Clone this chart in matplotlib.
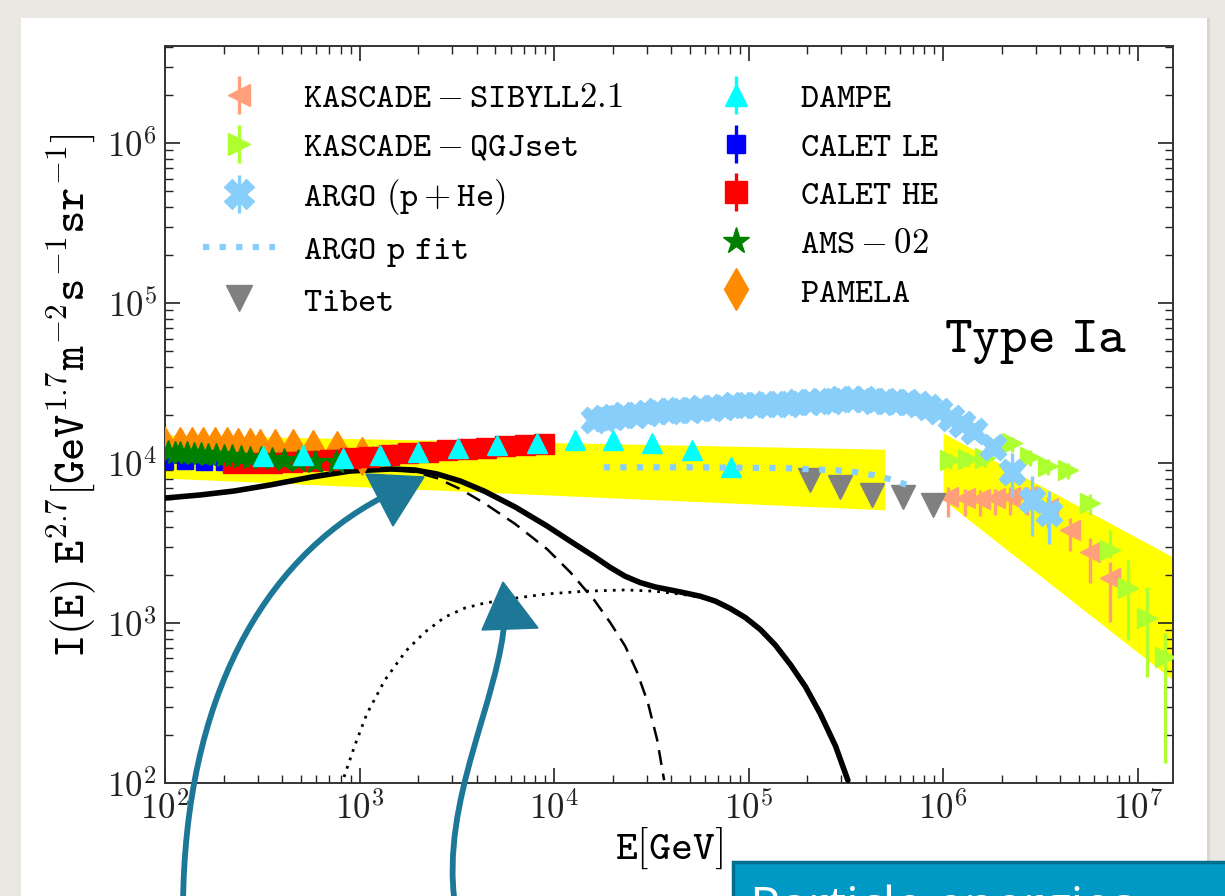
import numpy as np
import matplotlib
matplotlib.use('Agg')
import matplotlib.pyplot as plt
from matplotlib.patches import Rectangle, Polygon, PathPatch
from matplotlib.path import Path
from matplotlib.ticker import LogLocator, FuncFormatter, NullFormatter
from matplotlib.container import ErrorbarContainer
from matplotlib.legend_handler import HandlerErrorbar

plt.rcParams['mathtext.fontset'] = 'cm'
plt.rcParams['font.family'] = 'DejaVu Serif'

# ---- yellow uncertainty bands (E, upper, lower)
band_lo_E = [1e2, 5e5]
band_lo_top = [1.5e4, 1.22e4]
band_lo_bot = [8.05e3, 5.1e3]
band_hi_E = [1e6, 1.52e7]
band_hi_top = [1.54e4, 2.58e3]
band_hi_bot = [5.9e3, 440]

# ---- model curves
total_E = [100, 151, 226, 347, 570, 893, 1452, 1928, 2500, 3290, 4370, 6310, 9200,
           1.21e4, 1.61e4, 1.94e4, 2.32e4, 2.77e4, 3.31e4, 3.96e4, 4.73e4, 5.65e4,
           6.75e4, 8.07e4, 9.64e4, 1.15e5, 1.37e5, 1.64e5, 1.96e5, 2.34e5, 2.8e5, 3.24e5]
total_F = [6040, 6310, 6680, 7290, 8180, 8910, 9170, 9040, 8540, 7720, 6680, 5310, 4040,
           3250, 2600, 2230, 1960, 1790, 1680, 1610, 1540, 1470,
           1370, 1230, 1080, 910, 730, 550, 400, 270, 170, 104]
ia_E = [100, 151, 226, 347, 570, 893, 1452, 1928, 2500, 3290, 4370, 6310, 9200,
        1.21e4, 1.61e4, 1.94e4, 2.32e4, 2.67e4, 3.04e4, 3.39e4, 3.68e4]
ia_F = [6040, 6310, 6680, 7290, 8180, 8910, 9100, 8790, 8050, 6880, 5620, 4160, 2900,
        2080, 1390, 1010, 718, 494, 316, 186, 104]
hi_E = [832, 948, 1090, 1350, 1730, 2170, 2750, 3480, 4370, 6310, 9200, 1.44e4,
        2.32e4, 3.31e4, 3.96e4, 4.73e4, 5.65e4, 6.75e4, 8.07e4, 9.64e4, 1.15e5,
        1.37e5, 1.64e5, 1.96e5, 2.34e5, 2.8e5, 3.24e5]
hi_F = [109, 173, 270, 440, 668, 878, 1090, 1240, 1330, 1430, 1520, 1580,
        1610, 1580, 1540, 1500, 1450, 1360, 1220, 1070, 900,
        725, 545, 395, 267, 168, 103]

# ---- data sets
sib_E = [1.06e6, 1.3e6, 1.55e6, 1.85e6, 2.21e6, 2.7e6, 3.47e6, 4.5e6, 5.7e6, 7.2e6]
sib_F = [6130, 6050, 5960, 6050, 6130, 6200, 5240, 3810, 2780, 1910]
sib_lo = [1500, 1400, 1300, 1300, 1400, 1500, 1300, 1000, 1000, 900]
sib_hi = [900, 800, 800, 800, 900, 900, 900, 700, 600, 500]

qgj_E = [1.09e6, 1.34e6, 1.64e6, 2.26e6, 2.8e6, 3.47e6, 4.4e6, 5.7e6, 7.2e6, 8.9e6, 1.12e7, 1.38e7]
qgj_F = [10400, 10600, 10700, 13300, 10900, 9600, 9040, 5620, 2860, 1650, 1070, 613]
qgj_lo = [1200, 1200, 1200, 1500, 1300, 1200, 1100, 900, 300, 870, 610, 480]
qgj_hi = [1000, 1000, 1000, 1200, 1100, 1000, 900, 800, 950, 830, 610, 250]

argo_E = [1.6e4, 1.8e4, 2.0e4, 2.3e4, 2.6e4, 3.0e4, 3.4e4, 3.9e4, 4.4e4, 5.0e4, 5.7e4,
          6.5e4, 7.4e4, 8.4e4, 9.5e4, 1.08e5, 1.23e5, 1.4e5, 1.6e5, 1.8e5, 2.05e5,
          2.35e5, 2.65e5, 3.0e5, 3.4e5, 3.9e5, 4.4e5, 5.0e5, 5.7e5, 6.5e5, 7.4e5,
          8.4e5, 9.5e5, 1.1e6, 1.25e6, 1.45e6, 1.8e6, 2.25e6, 2.85e6, 3.5e6]
argo_F = [18500, 19000, 19500, 20000, 20000, 20500, 21000, 21000, 21500, 21500, 22000,
          22000, 22500, 23000, 23000, 23000, 23500, 23500, 23500, 24000, 24000,
          24500, 24500, 25000, 25000, 25000, 24500, 24500, 24000, 24000, 23500,
          22500, 21000, 19000, 17500, 15800, 12600, 8800, 5900, 4900]
argo_err = [500, 500, 500, 500, 500, 500, 500, 500, 500, 500, 500,
            500, 500, 500, 500, 500, 500, 500, 500, 500, 500,
            600, 600, 600, 600, 600, 600, 600, 700, 700, 700,
            800, 800, 900, 1000, 1200, 1600, 2700, 2400, 1800]

argofit_E = [1.8e4, 5e4, 1.5e5, 2.85e5, 3.5e5, 4.4e5, 5.4e5, 6.5e5]
argofit_F = [9400, 9400, 9300, 9000, 8800, 8400, 7900, 7300]

tibet_E = [2.07e5, 2.95e5, 4.3e5, 6.2e5, 8.9e5]
tibet_F = [7800, 7080, 6300, 6100, 5500]

dampe_E = [319, 513, 822, 1270, 2000, 3200, 5100, 8200, 12800, 20000, 32000, 51000, 81000]
dampe_F = [11000, 11200, 10700, 11200, 11700, 12400, 13000, 13300, 13900, 13900, 13300, 12000, 9400]
dampe_err = [300, 300, 300, 300, 400, 400, 500, 600, 700, 900, 1000, 1100, 1200]

caletle_E = [100, 126, 158, 200, 251, 316, 398, 501, 631, 794, 1000, 1260, 1580, 2000]
caletle_F = [10300, 10300, 10200, 10200, 10200, 10200, 10300, 10400, 10500, 10700, 10900, 11200, 11500, 11800]

calethe_E = [224, 282, 355, 447, 562, 708, 891, 1120, 1410, 1780, 2240, 2820, 3550,
             4470, 5620, 7080, 8910]
calethe_F = [10000, 10000, 10000, 10200, 10300, 10500, 10700, 10900, 11200, 11500, 11800,
             12000, 12200, 12400, 12700, 12900, 13100]

ams_E = [104, 112, 120, 130, 141, 153, 167, 183, 201, 222, 246, 275, 310, 354, 409, 481, 588, 760]
ams_F = [11700, 11600, 11600, 11500, 11400, 11400, 11300, 11200, 11100, 11000, 10900,
         10800, 10700, 10600, 10500, 10300, 10200, 10100]

pam_E = [100, 119, 138, 157, 181, 208, 237, 274, 308, 367, 455, 577, 766, 1030]
pam_F = [12800, 12800, 12800, 12700, 12700, 12700, 12600, 12600, 12500, 12500, 12400,
         12200, 12100, 11000]

W, H = 1225, 896


def fx(x):
    return x / W


def fy(y):
    return 1 - y / H


fig = plt.figure(figsize=(12.25, 8.96), dpi=100)
fig.patch.set_facecolor('#ebe7e2')
# white slide card with a light shadow
fig.add_artist(Rectangle((fx(24), fy(900)), fx(1186), 882 / H, transform=fig.transFigure,
                         facecolor='#d9d5d0', edgecolor='none', zorder=0))
fig.add_artist(Rectangle((fx(21), fy(900)), fx(1186), 882 / H, transform=fig.transFigure,
                         facecolor='white', edgecolor='none', zorder=0))

ax = fig.add_axes([fx(165), fy(783), fx(1173) - fx(165), fy(46) - fy(783)])
ax.set_xscale('log')
ax.set_yscale('log')

ax.fill_between(band_lo_E, band_lo_bot, band_lo_top, color='yellow', lw=0, zorder=1)
ax.fill_between(band_hi_E, band_hi_bot, band_hi_top, color='yellow', lw=0, zorder=1)

ax.plot(total_E, total_F, color='black', lw=4.0, zorder=3, solid_capstyle='round',
        solid_joinstyle='round')
ax.plot(ia_E, ia_F, color='black', lw=1.8, ls=(0, (6, 3.5)), zorder=3)
ax.plot(hi_E, hi_F, color='black', lw=2.0, ls=(0, (1, 2.2)), zorder=3)

eb = dict(ls='none', elinewidth=2.4, capsize=0)
h_sib = ax.errorbar(sib_E, sib_F, yerr=[sib_lo, sib_hi], marker='<', ms=15, color='#FFA07A',
                    zorder=4, label=r'$\mathtt{KASCADE-SIBYLL2.1}$', **eb)
h_qgj = ax.errorbar(qgj_E, qgj_F, yerr=[qgj_lo, qgj_hi], marker='>', ms=15, color='#ADFF2F',
                    zorder=4, label=r'$\mathtt{KASCADE-QGJset}$', **eb)
h_tib = ax.errorbar(tibet_E, tibet_F, yerr=None, marker='v', ms=17, color='gray',
                    zorder=4, label=r'$\mathtt{Tibet}$', **eb)
h_argo = ax.errorbar(argo_E, argo_F, yerr=argo_err, marker='X', ms=19, color='#87CEFA',
                     zorder=5, label=r'$\mathtt{ARGO}\ (\mathtt{p}+\mathtt{He})$', **eb)
h_fit, = ax.plot(argofit_E, argofit_F, color='#87CEFA', lw=4.5, ls=':', zorder=5,
                 label=r'$\mathtt{ARGO\ p\ fit}$')
h_pam = ax.errorbar(pam_E, pam_F, yerr=None, marker='d', ms=19, color='darkorange',
                    zorder=4, label=r'$\mathtt{PAMELA}$', **eb)
h_le = ax.errorbar(caletle_E, caletle_F, yerr=300, marker='s', ms=12, color='blue',
                   zorder=4, label=r'$\mathtt{CALET\ LE}$', **eb)
h_he = ax.errorbar(calethe_E, calethe_F, yerr=400, marker='s', ms=14, color='red',
                   zorder=4, label=r'$\mathtt{CALET\ HE}$', **eb)
h_ams = ax.errorbar(ams_E, ams_F, yerr=None, marker='*', ms=18, color='green',
                    zorder=4, label=r'$\mathtt{AMS-02}$', **eb)
h_dam = ax.errorbar(dampe_E, dampe_F, yerr=dampe_err, marker='^', ms=15, color='cyan',
                    zorder=4, label=r'$\mathtt{DAMPE}$', **eb)

ax.set_xlim(1e2, 1.52e7)
ax.set_ylim(1e2, 4.04e6)

fmt = FuncFormatter(lambda v, p: r'$10^{%d}$' % round(np.log10(v)))
for axis in (ax.xaxis, ax.yaxis):
    axis.set_major_locator(LogLocator(base=10, numticks=20))
    axis.set_minor_locator(LogLocator(base=10, subs=np.arange(2, 10), numticks=20))
    axis.set_major_formatter(fmt)
    axis.set_minor_formatter(NullFormatter())
ax.tick_params(which='both', direction='in', top=True, right=True, colors='#222222')
ax.tick_params(which='major', length=11, width=1.2, labelsize=25, pad=6)
ax.tick_params(which='minor', length=6, width=1.0)
for s in ax.spines.values():
    s.set_linewidth(1.4)
    s.set_color('#333333')

ax.set_xlabel(r'$\mathtt{E[GeV]}$', fontsize=30, labelpad=0)
ax.set_ylabel(r'$\mathtt{I(E)\ E^{2.7}[GeV^{1.7}m^{-2}s^{-1}sr^{-1}]}$', fontsize=32)
ax.yaxis.set_label_coords(-0.066, 0.525)

ax.text(0.864, 0.60, r'$\mathtt{Type\ Ia}$', transform=ax.transAxes, fontsize=38,
        ha='center', va='center')

handles = [h_sib, h_qgj, h_argo, h_fit, h_tib, h_dam, h_le, h_he, h_ams, h_pam]
ax.legend(handles=handles, loc='upper left', bbox_to_anchor=(0.02, 0.977), ncol=2,
          frameon=False, fontsize=25, borderpad=0, handlelength=2.1, handletextpad=0.8,
          labelspacing=0.42, columnspacing=2.2, markerscale=1.1,
          handler_map={ErrorbarContainer: HandlerErrorbar(yerr_size=0.55)})

# hand-drawn annotation arrows
teal = '#1c7896'
arrow_paths = [
    [(183, 905), (185, 700), (262, 560), (383, 497)],
    [(455, 905), (440, 800), (500, 700), (505, 615)],
]
arrow_heads = [
    [(366, 474), (424, 477), (393, 526)],
    [(482, 630), (538, 628), (503, 582)],
]
for pts in arrow_paths:
    verts = [(fx(x), fy(y)) for x, y in pts]
    path = Path(verts, [Path.MOVETO, Path.CURVE4, Path.CURVE4, Path.CURVE4])
    fig.add_artist(PathPatch(path, transform=fig.transFigure, facecolor='none',
                             edgecolor=teal, lw=4.2, zorder=10))
for pts in arrow_heads:
    fig.add_artist(Polygon([(fx(x), fy(y)) for x, y in pts], closed=True,
                           transform=fig.transFigure, facecolor=teal, edgecolor=teal,
                           lw=1, zorder=10))

# teal text box at the bottom right
fig.add_artist(Rectangle((fx(733), fy(905)), fx(500), 43 / H, transform=fig.transFigure,
                         facecolor='#0098c5', edgecolor='#006f8e', lw=2.5, zorder=11))
fig.text(fx(750), fy(922), 'Particle energies', fontsize=36, color='white',
         family='Open Sans', va='baseline', ha='left', zorder=12)

fig.savefig('out.png', dpi=100)
